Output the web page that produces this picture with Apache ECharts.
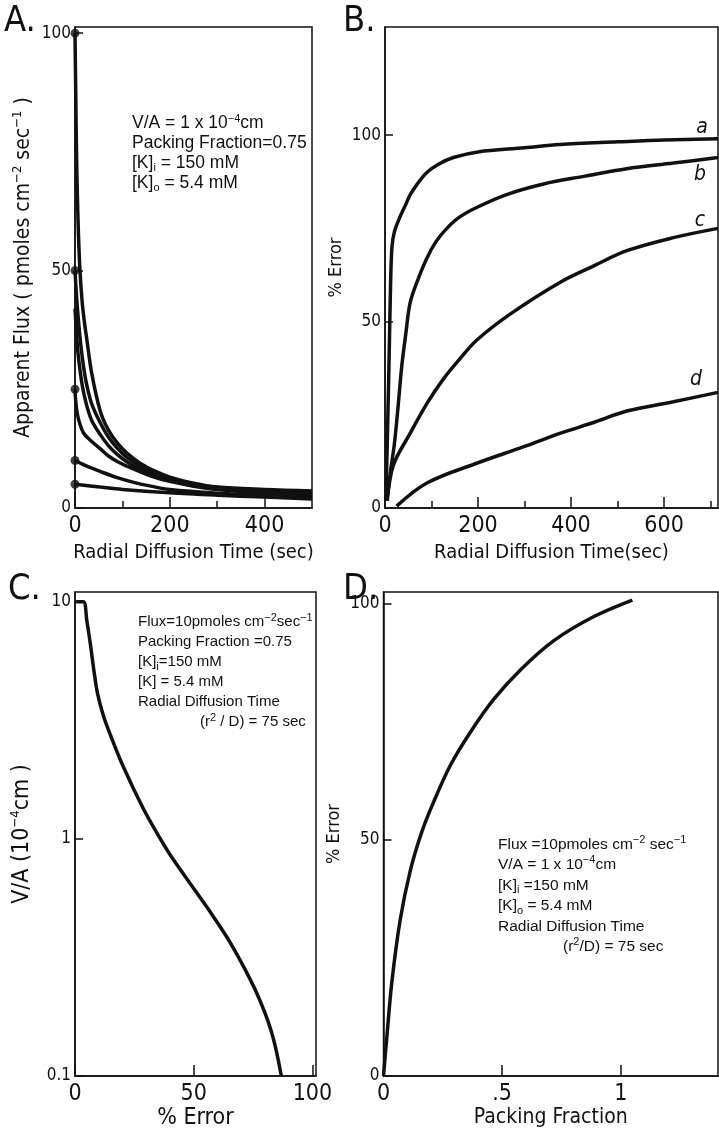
<!DOCTYPE html>
<html>
<head>
<meta charset="utf-8">
<script src="https://cdn.jsdelivr.net/npm/echarts@6/dist/echarts.min.js"></script>
<style>
html, body { margin: 0; padding: 0; background: #fff; }
#chart { width: 719px; height: 1135px; }
</style>
</head>
<body>
<div id="chart"></div>
<script>
var NARROW = "'DejaVu Sans Condensed', 'Liberation Sans Narrow', sans-serif";
var REG = "'Liberation Sans', 'DejaVu Sans', sans-serif";
var INK = '#111';

// A. apparent flux (pmoles cm-2 sec-1) vs radial diffusion time (sec)
var flux100 = [[0,100],[1.5,88],[3,76],[5,66],[7.5,57],[10.5,50],[15,43.5],[20,39],[25,35.5],[35,28.5],[53,20.5],[70,16.5],[89,13.7],[110,11.5],[138,9.4],[170,7.7],[200,6.5],[250,5.2],[300,4.4],[400,3.9],[500,3.6]];
var flux50 = [[0,50],[3,45],[6,41],[10,36.5],[15,32],[20,28.5],[25,25.8],[35,22],[53,18],[70,15],[89,12.6],[110,10.6],[138,8.8],[170,7.3],[200,6.2],[250,5],[300,4.3],[400,3.7],[500,3.3]];
var flux42 = [[0,42],[3,37],[6,33],[10,29.5],[15,26],[20,23.5],[25,21.5],[35,18.5],[53,15.5],[70,13.2],[89,11.3],[110,9.7],[138,8.2],[170,6.9],[200,5.9],[250,4.9],[300,4.1],[400,3.4],[500,3.0]];
var flux25 = [[0,25],[2,22],[5,19.8],[10,17.8],[18,15.8],[30,14.5],[53,12.5],[70,11],[89,9.8],[110,8.8],[138,7.6],[170,6.4],[200,5.6],[250,4.6],[300,3.9],[400,3.1],[500,2.7]];
var flux10 = [[0,10],[25,8.8],[53,7.7],[89,6.4],[124,5.4],[160,4.6],[200,3.9],[300,3.1],[400,2.6],[500,2.3]];
var flux5 = [[0,5],[53,4.4],[100,3.9],[200,3.2],[300,2.7],[400,2.3],[500,1.9]];
var fluxDotted = [flux100, flux50, flux25, flux10, flux5];

// B. % error vs radial diffusion time (sec), curves a-d
var errA = [[2,2],[8,35],[12,60],[15,70],[20,74],[32,78],[45,81.5],[54,84],[70,87],[90,90],[115,92.2],[147,94],[200,95.5],[300,96.6],[376,97.5],[500,98.2],[600,98.7],[716,99]];
var errB = [[4,2],[12,10],[20,17],[28,27],[36,38],[45,47],[54,55],[70,61],[90,67],[110,71.5],[133,75],[160,78],[197,80.6],[260,84],[341,86.9],[430,89],[520,91],[620,92.5],[716,94]];
var errC = [[5,2],[18,11.5],[54,20],[90,28],[125,34.5],[161,40],[197,45],[269,52],[376,60.5],[450,65],[520,69],[620,72.5],[716,75]];
var errD = [[25,0.5],[90,6.7],[197,12],[300,16.5],[376,20],[450,23],[520,26],[620,28.5],[716,31]];
var errNames = ['a', 'b', 'c', 'd'];

// C. V/A (10-4 cm, log) vs % error
var vaErr = [[0.5,10],[3.5,10],[5,8.3],[6.5,6.6],[8,5.1],[9.5,4.1],[12,3.3],[15,2.73],[20.5,2.0],[28.8,1.34],[35.7,1.01],[41.2,0.824],[50.9,0.6],[57.8,0.478],[66.1,0.355],[75.8,0.232],[82.7,0.154],[86.9,0.1]];

// D. % error vs packing fraction
var packErr = [[0,0],[0.014,8.2],[0.035,19.8],[0.07,33],[0.113,43.5],[0.16,51.5],[0.211,58],[0.282,65.8],[0.366,72.8],[0.465,79.8],[0.577,86],[0.718,92.2],[0.887,97.3],[1.049,100.8]];

// tick values
var aXLabels = [0, 200, 400], aXMinor = [100, 300], aYLabels = [0, 50, 100];
var bXLabels = [0, 200, 400, 600], bXMinor = [100, 300, 500, 700], bYLabels = [0, 50, 100];
var cXLabels = [0, 50, 100], cYLabels = [0.1, 1, 10];
var dXLabels = [0, 0.5, 1], dYLabels = [0, 50, 100];

var grids = [
  { left: 75, top: 27, width: 237, height: 481 },
  { left: 385, top: 27, width: 333, height: 481 },
  { left: 75, top: 592, width: 241, height: 484 },
  { left: 383.5, top: 592, width: 334.5, height: 484 }
];
grids.forEach(function (g) {
  g.show = true; g.borderColor = INK; g.borderWidth = 1.5; g.backgroundColor = 'transparent';
  g.containLabel = false; g.outerBoundsMode = 'none';
});

var supStyle = { fontSize: 13, fontFamily: NARROW, color: INK, verticalAlign: 'top', lineHeight: 26 };
var xAxes = [], yAxes = [];

function addX(grid, min, max, labels, minor, name, gap, nameSize, fmt) {
  xAxes.push({
    type: 'value', gridIndex: grid, min: min, max: max, position: 'bottom',
    axisLine: { show: true, onZero: false, lineStyle: { color: INK, width: 1.5 } },
    axisTick: { show: true, inside: true, length: 11, customValues: labels, lineStyle: { color: INK, width: 1.5 } },
    axisLabel: { customValues: labels, fontSize: 23, fontFamily: NARROW, color: INK, margin: 7, formatter: fmt },
    splitLine: { show: false },
    name: name, nameLocation: 'middle', nameGap: gap,
    nameTextStyle: { fontSize: nameSize, fontFamily: NARROW, color: INK }
  });
  var main = xAxes.length - 1;
  if (minor) {
    xAxes.push({
      type: 'value', gridIndex: grid, min: min, max: max, position: 'bottom',
      axisLine: { show: false },
      axisTick: { show: true, inside: true, length: 7, customValues: minor, lineStyle: { color: INK, width: 1.5 } },
      axisLabel: { show: false }, splitLine: { show: false }
    });
  }
  return main;
}

function addY(grid, type, min, max, labels, name, gap, nameSize, fmt) {
  yAxes.push({
    type: type, gridIndex: grid, min: min, max: max, position: 'left',
    axisLine: { show: true, onZero: false, lineStyle: { color: INK, width: 1.5 } },
    axisTick: { show: true, inside: true, length: 8, customValues: labels, lineStyle: { color: INK, width: 1.5 } },
    axisLabel: { customValues: labels, fontSize: 17, fontFamily: NARROW, color: INK, margin: 4, formatter: fmt },
    splitLine: { show: false }, minorTick: { show: false },
    name: name, nameLocation: 'middle', nameGap: gap, nameRotate: 90,
    nameTextStyle: { fontSize: nameSize, fontFamily: NARROW, color: INK, rich: { sup: supStyle } }
  });
  return yAxes.length - 1;
}

var ax = addX(0, 0, 500, aXLabels, aXMinor, 'Radial Diffusion Time (sec)', 35, 20);
var ay = addY(0, 'value', 0, 101.3, aYLabels, 'Apparent Flux ( pmoles cm{sup|−2} sec{sup|−1} )', 38, 21);
var bx = addX(1, 0, 716, bXLabels, bXMinor, 'Radial Diffusion Time(sec)', 35, 20);
var by = addY(1, 'value', 0, 129, bYLabels, '% Error', 40, 18);
var cx = addX(2, 0, 101.5, cXLabels, null, '% Error', 30, 23);
var cy = addY(2, 'log', 0.1, 11, cYLabels, 'V/A (10{sup|−4}cm )', 40, 23);
var dx = addX(3, 0, 1.41, dXLabels, null, 'Packing Fraction', 30, 21, function (v) {
  return v === 0 ? '0' : (v === 1 ? '1' : '.5');
});
var dy = addY(3, 'value', 0, 102.5, dYLabels, '% Error', 40, 18);

function curve(data, xi, yi) {
  return {
    type: 'line', data: data, xAxisIndex: xi, yAxisIndex: yi,
    symbol: 'none', showSymbol: false, smooth: 0.35,
    lineStyle: { color: INK, width: 3.5 }, silent: true
  };
}

var series = [];
[flux100, flux50, flux42, flux25, flux10, flux5].forEach(function (d) { series.push(curve(d, ax, ay)); });
series.push({
  type: 'scatter', xAxisIndex: ax, yAxisIndex: ay, clip: false, symbolSize: 9,
  itemStyle: { color: INK }, data: fluxDotted.map(function (d) { return d[0]; })
});

var labelOffsets = [[-16, -11], [-18, 17], [-18, -8], [-22, -13]];
[errA, errB, errC, errD].forEach(function (d, i) {
  var s = curve(d, bx, by);
  s.markPoint = {
    symbol: 'circle', symbolSize: 1, itemStyle: { color: 'rgba(0,0,0,0)' }, silent: true,
    data: [{ coord: d[d.length - 1] }],
    label: { show: true, position: 'inside', formatter: errNames[i], offset: labelOffsets[i],
      fontSize: 21, fontStyle: 'italic', fontFamily: NARROW, color: INK }
  };
  series.push(s);
});
series.push(curve(vaErr, cx, cy));
series.push(curve(packErr, dx, dy));

var richG = {
  sup: { fontSize: 11, fontFamily: REG, fill: INK, verticalAlign: 'top' },
  sub: { fontSize: 11, fontFamily: REG, fill: INK, verticalAlign: 'bottom' }
};
function note(x, y, text, size, lh) {
  return { type: 'text', x: x, y: y, silent: true,
    style: { text: text, fontSize: size, fontFamily: REG, fill: INK, lineHeight: lh, rich: richG, align: 'left', verticalAlign: 'top' } };
}
function letter(x, y, t) {
  return { type: 'text', x: x, y: y, silent: true,
    style: { text: t, fontSize: 36, fontFamily: NARROW, fill: INK, align: 'left', verticalAlign: 'middle' } };
}

var graphics = [
  letter(4, 22, 'A.'), letter(343, 22, 'B.'), letter(8, 590, 'C.'), letter(343, 590, 'D.'),
  note(132, 113, 'V/A = 1 x 10{sup|−4}cm\nPacking Fraction=0.75\n[K]{sub|i} = 150 mM\n[K]{sub|o} = 5.4 mM', 17.5, 20),
  note(138, 612, 'Flux=10pmoles cm{sup|−2}sec{sup|−1}\nPacking Fraction =0.75\n[K]{sub|i}=150 mM\n[K] = 5.4 mM\nRadial Diffusion Time', 15, 20),
  note(200, 712, '(r{sup|2} / D) = 75 sec', 15, 20),
  note(498, 834, 'Flux =10pmoles cm{sup|−2} sec{sup|−1}\nV/A = 1 x 10{sup|−4}cm\n[K]{sub|i} =150 mM\n[K]{sub|o} = 5.4 mM\nRadial Diffusion Time', 15.5, 20.5),
  note(563, 936, '(r{sup|2}/D) = 75 sec', 15.5, 20.5)
];

var chart = echarts.init(document.getElementById('chart'), null, { renderer: 'canvas' });
chart.setOption({
  animation: false,
  backgroundColor: '#fff',
  grid: grids,
  xAxis: xAxes,
  yAxis: yAxes,
  series: series,
  graphic: graphics
});
window.addEventListener('resize', function () { chart.resize(); });
</script>
</body>
</html>
